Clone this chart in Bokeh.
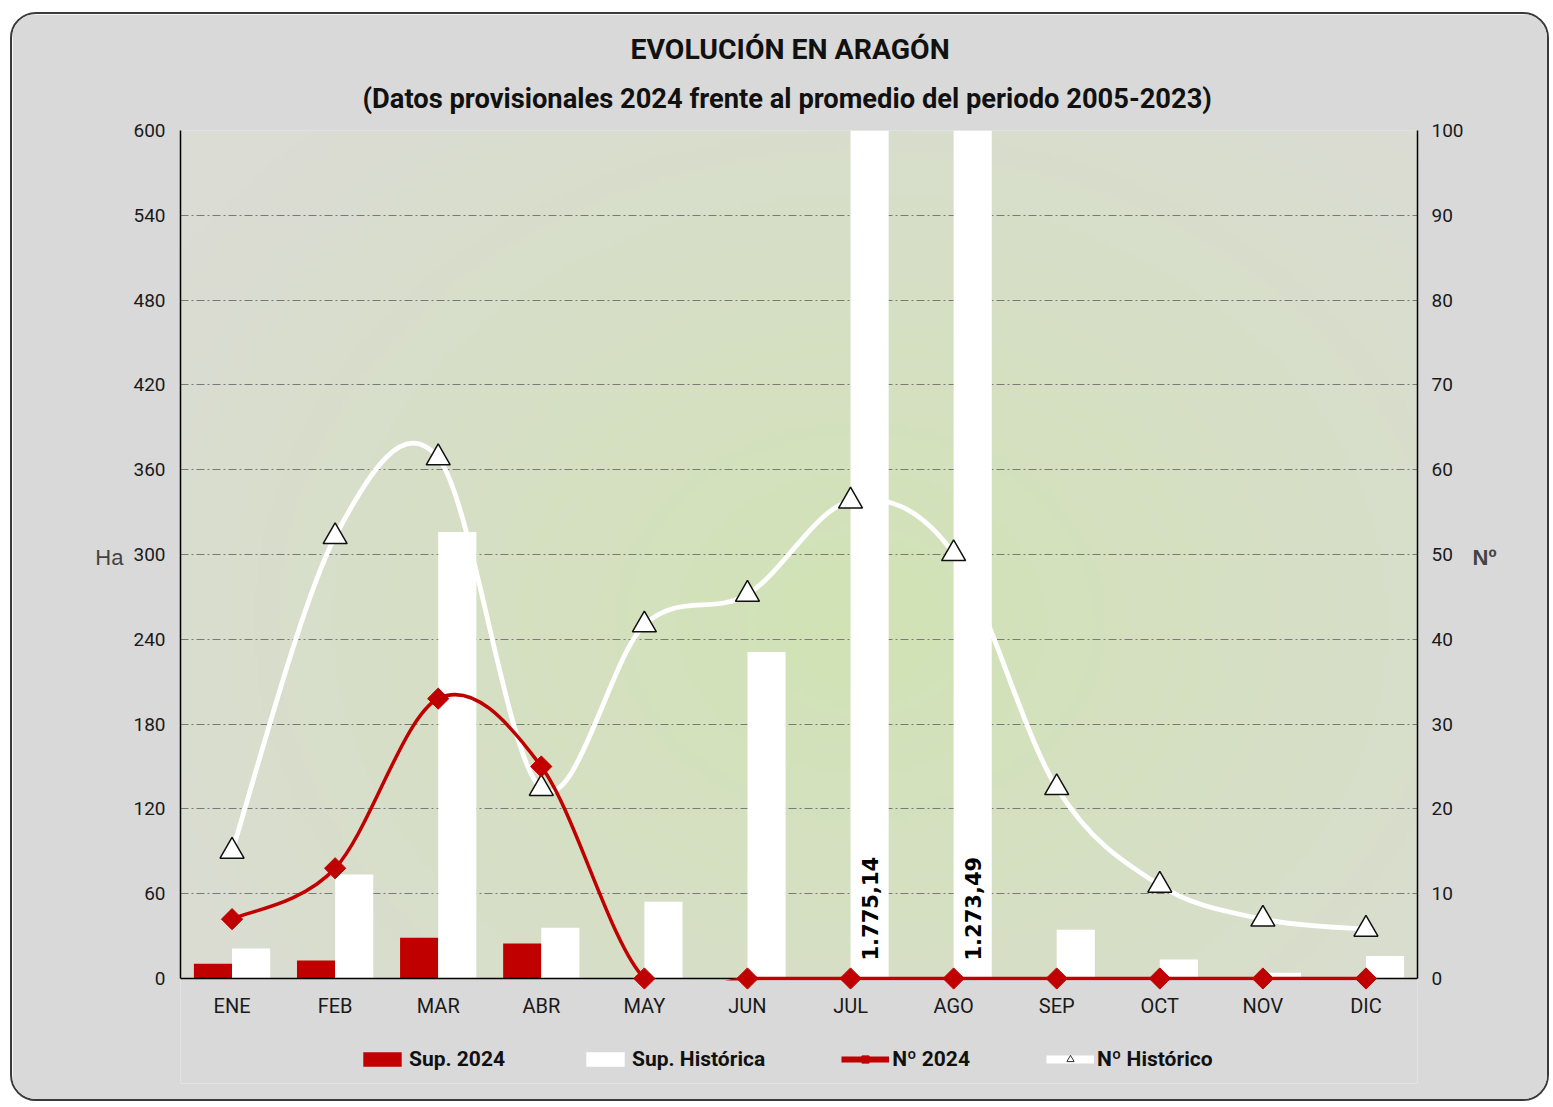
import numpy as np
from bokeh.plotting import figure
from bokeh.models import (Range1d, LinearAxis, FixedTicker, Legend, LegendItem, Title,
                          ColumnDataSource)
from bokeh.core.properties import value
from bokeh.embed import file_html
from bokeh.resources import INLINE

# ---------------- data ----------------
months = ["ENE", "FEB", "MAR", "ABR", "MAY", "JUN", "JUL", "AGO", "SEP", "OCT", "NOV", "DIC"]
sup_2024 = [10.4, 12.7, 28.8, 24.7, 0, 0, 0, 0, 0, 0, 0, 0]
sup_hist = [21.2, 73.6, 316.0, 35.9, 54.3, 231.0, 1775.14, 1273.49, 34.5, 13.5, 4.0, 16.0]
n_2024 = [7, 13, 33, 25, 0, 0, 0, 0, 0, 0, 0, 0]
n_hist = [15.0, 52.1, 61.4, 22.4, 41.7, 45.3, 56.3, 50.1, 22.5, 11.0, 7.0, 5.8]
ha_ticks = [0, 60, 120, 180, 240, 300, 360, 420, 480, 540, 600]
n_ticks = [0, 10, 20, 30, 40, 50, 60, 70, 80, 90, 100]

# ---------------- style ----------------
RED = "#c00000"
BG = "#d9d9d9"
FONT = "Roboto"
HA_MAX = 600
N_MAX = 100
LOW = 74.3  # frame extends below zero (Ha units) to hold month labels and legend
SHIFT_LINES = "\n \n \n \n "  # lifts the side axis titles to the middle of the value range

xc = np.arange(len(months)) + 0.5
off = 0.185
bw = 0.37

p = figure(width=1539, height=1089,
           x_range=Range1d(0, len(months)), y_range=Range1d(-LOW, HA_MAX),
           output_backend="svg", toolbar_location=None, title=None,
           min_border_left=168, min_border_right=134, min_border_top=116, min_border_bottom=20,
           background_fill_color=BG, border_fill_color=BG, outline_line_color=None)
p.styles = {"border": "2px solid #3a3a3a", "border-radius": "26px", "overflow": "hidden",
            "margin-left": "10px", "margin-top": "12px"}
p.extra_y_ranges = {"n": Range1d(-LOW * N_MAX / HA_MAX, N_MAX)}

# gradient background of plot area
ny, nx = 150, 300
vv, uu = np.mgrid[0:ny, 0:nx]
uu = (uu + 0.5) / nx
vv = (vv + 0.5) / ny
t = np.clip(np.sqrt(((uu - 0.55) / 0.66) ** 2 + ((vv - 0.42) / 0.78) ** 2), 0, 1)
c_in = np.array([209, 227, 181], dtype=float)
c_out = np.array([219, 220, 212], dtype=float)
rgb = c_in * (1 - t[..., None]) + c_out * t[..., None]
img = np.empty((ny, nx), dtype=np.uint32)
view = img.view(dtype=np.uint8).reshape((ny, nx, 4))
view[..., :3] = rgb.astype(np.uint8)
view[..., 3] = 255
p.image_rgba(image=[img], x=0, y=0, dw=len(months), dh=HA_MAX, level="image")

# bars
r_s24 = p.vbar(x=xc - off, top=sup_2024, width=bw, fill_color=RED, line_color=None)
r_sh = p.vbar(x=xc + off, top=sup_hist, width=bw, fill_color="white", line_color=None)


def smooth(xs, ys):
    xs = np.asarray(xs, float)
    ys = np.asarray(ys, float)
    n = len(xs)
    xp = np.concatenate([[xs[0]], xs, [xs[-1]]])
    yp = np.concatenate([[ys[0]], ys, [ys[-1]]])
    return dict(
        x0=xs[:-1], y0=ys[:-1], x1=xs[1:], y1=ys[1:],
        cx0=xs[:-1] + (xp[2:n + 1] - xp[0:n - 1]) / 6, cy0=ys[:-1] + (yp[2:n + 1] - yp[0:n - 1]) / 6,
        cx1=xs[1:] - (xp[3:n + 2] - xp[1:n]) / 6, cy1=ys[1:] - (yp[3:n + 2] - yp[1:n]) / 6,
    )


# historic count line
p.bezier(source=ColumnDataSource(smooth(xc, n_hist)), x0="x0", y0="y0", x1="x1", y1="y1",
         cx0="cx0", cy0="cy0", cx1="cx1", cy1="cy1", line_color="white", line_width=4.8,
         y_range_name="n")
p.scatter(x=xc, y=n_hist, marker="triangle", size=24, fill_color="white",
          line_color="#111111", line_width=1.5, y_range_name="n")

# zero (category axis) line
p.hspan(y=[0], line_color="black", line_width=1.5)

# 2024 count line
p.bezier(source=ColumnDataSource(smooth(xc, n_2024)), x0="x0", y0="y0", x1="x1", y1="y1",
         cx0="cx0", cy0="cy0", cx1="cx1", cy1="cy1", line_color=RED, line_width=3.5,
         y_range_name="n")
# hide the part of the curve that falls below the plot area
p.hstrip(y0=[-14], y1=[-1.4], fill_color=BG, fill_alpha=1, line_color=None)
p.scatter(x=xc, y=n_2024, marker="square", angle=np.pi / 4, size=15, fill_color=RED,
          line_color=RED, y_range_name="n")

# value labels for bars exceeding the axis
big = [(x + off, v) for x, v in zip(xc, sup_hist) if v > HA_MAX]
lab_txt = [f"{v:,.2f}".replace(",", "X").replace(".", ",").replace("X", ".") for _, v in big]
p.text(x=[b[0] for b in big], y=[0] * len(big), text=lab_txt, angle=np.pi / 2,
       y_offset=-18, text_align="left", text_baseline="middle",
       text_font=value("DejaVu Sans"), text_font_style="bold", text_font_size="21px",
       text_color="black")

# axes
xa = p.xaxis[0]
xa.fixed_location = 0
xa.ticker = FixedTicker(ticks=list(xc))
xa.major_label_overrides = {float(x): m for x, m in zip(xc, months)}
xa.axis_line_color = None
xa.major_tick_line_color = None
xa.major_tick_out = 0
xa.major_tick_in = 0
xa.minor_tick_line_color = None
xa.major_label_standoff = 16
xa.major_label_text_font = FONT
xa.major_label_text_font_size = "20px"
xa.major_label_text_color = "#1a1a1a"

ya = p.yaxis[0]
ya.ticker = FixedTicker(ticks=ha_ticks)
ya.bounds = (0, HA_MAX)
ya.axis_line_color = "black"
ya.axis_line_width = 1.5
ya.major_tick_line_color = None
ya.minor_tick_line_color = None
ya.major_label_standoff = 9
ya.major_label_text_font = FONT
ya.major_label_text_font_size = "19px"
ya.major_label_text_color = "#1a1a1a"
ya.axis_label = "Ha" + SHIFT_LINES
ya.axis_label_text_font = "Liberation Sans"
ya.axis_label_text_font_style = "normal"
ya.axis_label_text_font_size = "22px"
ya.axis_label_text_line_height = 1.0
ya.axis_label_standoff = 7
try:
    ya.axis_label_orientation = "horizontal"
except Exception:
    pass

ra = LinearAxis(y_range_name="n", ticker=FixedTicker(ticks=n_ticks), bounds=(0, N_MAX))
ra.axis_line_color = "black"
ra.axis_line_width = 1.5
ra.major_tick_line_color = None
ra.minor_tick_line_color = None
ra.major_label_standoff = 8
ra.major_label_text_font = FONT
ra.major_label_text_font_size = "19px"
ra.major_label_text_color = "#1a1a1a"
ra.axis_label = "Nº" + SHIFT_LINES
ra.axis_label_text_font = "Liberation Sans"
ra.axis_label_text_font_style = "bold"
ra.axis_label_text_font_size = "22px"
ra.axis_label_text_line_height = 1.0
ra.axis_label_standoff = 6
try:
    ra.axis_label_orientation = "horizontal"
except Exception:
    pass
p.add_layout(ra, "right")

# grid
p.xgrid.visible = False
p.ygrid[0].ticker = FixedTicker(ticks=ha_ticks)
p.ygrid.grid_line_color = "#7a7a7a"
p.ygrid.grid_line_dash = "8 3 2 3"
p.ygrid.grid_line_width = 1

# legend proxies (single NaN point: nothing drawn on the plot)
nan = [float("nan")]
l_n24 = p.line(x=nan, y=nan, line_color=RED, line_width=6)
s_n24 = p.scatter(x=nan, y=nan, marker="square", angle=np.pi / 4, size=8, fill_color=RED,
                  line_color=RED)
l_nh = p.line(x=nan, y=nan, line_color="white", line_width=8)
s_nh = p.scatter(x=nan, y=nan, marker="triangle", size=13, fill_color="white", line_color="#333333")

legend = Legend(items=[
    LegendItem(label="Sup. 2024", renderers=[r_s24]),
    LegendItem(label="Sup. Histórica", renderers=[r_sh]),
    LegendItem(label="Nº 2024", renderers=[l_n24, s_n24]),
    LegendItem(label="Nº Histórico", renderers=[l_nh, s_nh]),
], orientation="horizontal", location=(178, 12), spacing=76, glyph_width=48, glyph_height=18,
    label_standoff=3, padding=0, margin=0, background_fill_alpha=0, border_line_alpha=0,
    label_text_font=FONT, label_text_font_style="bold", label_text_font_size="21px",
    label_text_color="#111111")
p.add_layout(legend)

# titles (first added is closest to the plot)
t2 = Title(text="(Datos provisionales 2024 frente al promedio del periodo 2005-2023)",
           align="left", offset=182, standoff=31, text_font=FONT, text_font_style="bold",
           text_font_size="27.3px", text_color="#111111")
t1 = Title(text="EVOLUCIÓN EN ARAGÓN", align="left", offset=450, standoff=0, text_font=FONT,
           text_font_style="bold", text_font_size="28.4px", text_color="#111111")
p.add_layout(t2, "above")
p.add_layout(t1, "above")

open("out.html", "w").write(file_html(p, INLINE))
